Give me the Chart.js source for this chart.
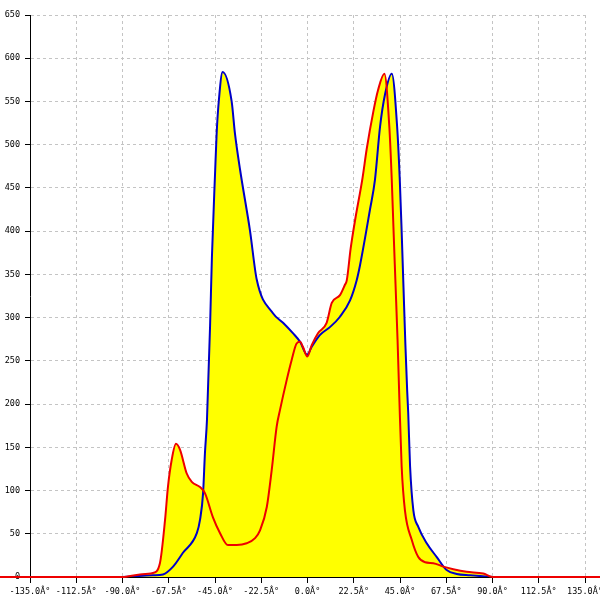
<!DOCTYPE html>
<html><head><meta charset="utf-8">
<script src="https://cdn.jsdelivr.net/npm/chart.js@4/dist/chart.umd.min.js"></script>
<style>html,body{margin:0;padding:0;background:#fff}</style>
</head><body>
<canvas id="c" width="600" height="600"></canvas>
<script>
const blueX = [-90,-75.2,-70.3,-65.4,-60.6,-53.8,-52.3,-50.8,-49.9,-48.9,-47.4,-46.5,-44.9,-44.2,-43.1,-41.3,-36.9,-35.3,-32.8,-28.0,-24.7,-16.8,-11.9,-7.1,-3.6,-0.2,2.0,6.1,10.9,15.8,20.7,23.9,25.5,30.4,32.8,35.3,37.7,41.0,43.6,44.9,45.8,46.7,47.6,48.5,49.0,49.9,51.5,53.9,58.0,62.9,67.7,72.6,79.1,90];
const blueY = [0,2,3,12,28,51,66,97,143,182,290,370,471,513,552,584,550,513,471,401,344,305,294,282,272,257,266,280,289,301,320,343,360,425,459,521,558,582,521,459,400,335,270,215,190,128,77,58,39,23,8,3.5,2,0];
const redX = [-180,-90,-81.5,-75.2,-71.8,-69.3,-67.9,-66.1,-64.0,-62.0,-58.8,-56.3,-52.3,-49.9,-46.0,-42.6,-38.7,-34.4,-29.6,-25.5,-23.1,-19.8,-17.4,-15.0,-13.4,-10.1,-7.7,-5.3,-3.6,-2.2,-0.1,2.0,5.1,9.3,11.8,15.8,18.2,19.1,21.0,23.1,26.8,28.8,32.0,34.3,37.4,39.8,41.0,41.8,42.8,43.8,44.7,45.8,47.4,50.7,53.9,57.2,61.2,66.1,70.9,77.4,85.5,90,180];
const redY = [0,0,3,4.6,16,66,104,135,154,147,120,110,104,97,69,51,37,37,39,45,54,81,124,174,193,228,251,270,272,266,255,268,282,294,317,326,338,343,380,412,462,495,538,563,582,521,459,405,340,275,205,128,77,43,23,17,16,12,9,6,4,0,0];
const xTickLabels = ["-135.0Â°","-112.5Â°","-90.0Â°","-67.5Â°","-45.0Â°","-22.5Â°","0.0Â°","22.5Â°","45.0Â°","67.5Â°","90.0Â°","112.5Â°","135.0Â°"];
const yTickLabels = ["0","50","100","150","200","250","300","350","400","450","500","550","600","650"];

const toPts = (xs, ys) => xs.map((x, i) => ({x: x, y: ys[i]}));
const font = {family: "DejaVu Sans Mono", size: 8.5};

new Chart(document.getElementById('c'), {
  type: 'line',
  data: {
    datasets: [
      {data: toPts(redX, redY), borderColor: '#ee0000', borderWidth: 2, backgroundColor: '#ffff00',
       fill: 'origin', pointRadius: 0, cubicInterpolationMode: 'monotone', clip: false},
      {data: toPts(blueX, blueY), borderColor: '#0000c8', borderWidth: 2, backgroundColor: '#ffff00',
       fill: 'origin', pointRadius: 0, cubicInterpolationMode: 'monotone'}
    ]
  },
  options: {
    responsive: false, animation: false,
    layout: {padding: {top: 15, right: 15, left: 0, bottom: 0}},
    plugins: {legend: {display: false}, tooltip: {enabled: false}, filler: {drawTime: 'beforeDatasetsDraw'}},
    scales: {
      x: {
        type: 'linear', min: -135, max: 135,
        ticks: {stepSize: 22.5, color: '#000', font: font, padding: 4, maxRotation: 0, autoSkip: false,
                callback: (v, i) => xTickLabels[i]},
        grid: {color: '#c4c4c4', tickColor: '#000', tickLength: 6, tickBorderDash: []},
        border: {color: '#000', width: 1, dash: [3, 3]},
        afterFit: s => { s.height = 23; s.paddingLeft = 0; s.paddingRight = 0; }
      },
      y: {
        min: 0, max: 650,
        ticks: {stepSize: 50, color: '#000', font: font, padding: 5,
                callback: (v, i) => yTickLabels[i]},
        grid: {color: '#c4c4c4', tickColor: '#000', tickLength: 5, tickBorderDash: []},
        border: {color: '#000', width: 1, dash: [3, 3]},
        afterFit: s => { s.width = 30; s.paddingTop = 0; s.paddingBottom = 0; }
      }
    }
  }
});
</script>
</body></html>
